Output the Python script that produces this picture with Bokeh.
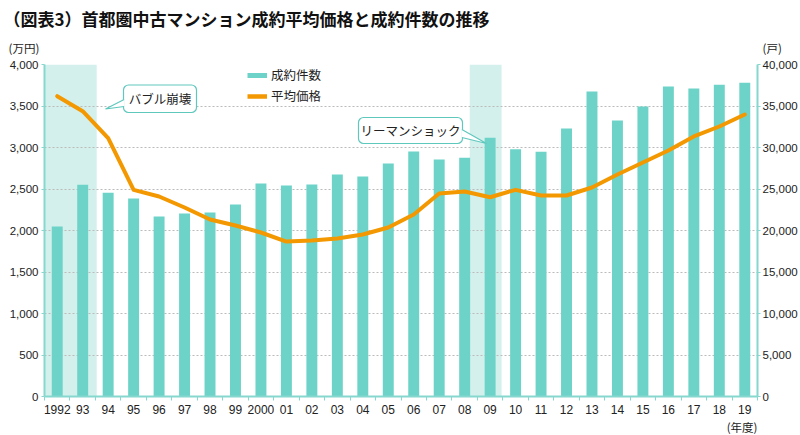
from bokeh.plotting import figure
from bokeh.layouts import column
from bokeh.models import (Range1d, LinearAxis, FixedTicker, NumeralTickFormatter,
                          BoxAnnotation, Label, Legend, LegendItem, Title)
from bokeh.embed import file_html
from bokeh.resources import INLINE

# ---- data ----
years = ["1992", "93", "94", "95", "96", "97", "98", "99", "2000", "01", "02", "03", "04",
         "05", "06", "07", "08", "09", "10", "11", "12", "13", "14", "15", "16", "17", "18", "19"]
counts = [20480, 25510, 24540, 23860, 21690, 22050, 22170, 23130, 25660, 25420, 25540, 26750,
          26510, 28070, 29520, 28550, 28760, 31170, 29800, 29480, 32290, 36750, 33250, 34940,
          37350, 37110, 37550, 37800]
prices = [3618, 3437, 3112, 2490, 2410, 2277, 2133, 2060, 1976, 1867, 1880, 1904, 1952, 2036,
          2193, 2446, 2470, 2401, 2490, 2422, 2422, 2518, 2675, 2819, 2964, 3133, 3253, 3398]
price_ticks = [0, 500, 1000, 1500, 2000, 2500, 3000, 3500, 4000]
count_ticks = [0, 5000, 10000, 15000, 20000, 25000, 30000, 35000, 40000]

TEAL = "#6dd3c8"
BAND = "#d3f0ec"
AXIS = "#86d8cf"
ORANGE = "#f39800"
JP = "Noto Sans CJK JP"
NUM = "Liberation Sans"

xs = list(range(len(years)))

# ---------- header strip (title + units) ----------
HEAD_H = 56
head = figure(width=800, height=HEAD_H, output_backend="svg", toolbar_location=None,
              x_range=Range1d(0, 800), y_range=Range1d(HEAD_H, 0),
              x_axis_type=None, y_axis_type=None, min_border=0,
              outline_line_color=None, background_fill_color="white",
              border_fill_color="white")
head.frame_align = False
head.grid.visible = False
head.add_layout(Label(x=3, y=18, text="（図表3）首都圏中古マンション成約平均価格と成約件数の推移",
                      text_align="left", text_baseline="middle", text_font=JP,
                      text_font_size="17px", text_font_style="bold", text_color="#111111"))
head.add_layout(Label(x=8, y=47, text="(万円)", text_align="left", text_baseline="middle",
                      text_font=JP, text_font_size="11.5px", text_color="#222222"))
head.add_layout(Label(x=762, y=47, text="(戸)", text_align="left", text_baseline="middle",
                      text_font=JP, text_font_size="11.5px", text_color="#222222"))

# ---------- main chart ----------
MAIN_H = 435 - HEAD_H
FL, FR = 44, 757
FT, FB = 64 - HEAD_H, 396 - HEAD_H     # frame top/bottom inside main figure
YPX = (FB - FT) / 4000.0
def px2x(px):
    return (px - FL) / ((FR - FL) / len(years)) - 0.5
def py2y(py):               # py in full-page pixels
    return (396 - py) / YPX

p = figure(width=800, height=MAIN_H, output_backend="svg", toolbar_location=None,
           x_range=Range1d(-0.5, len(years) - 0.5), y_range=Range1d(0, 4000),
           min_border_left=FL, min_border_right=800 - FR, min_border_top=FT,
           min_border_bottom=MAIN_H - FB, outline_line_color=None,
           background_fill_color="white", border_fill_color="white")
p.frame_align = False
p.extra_y_ranges = {"cnt": Range1d(0, 40000)}

# shaded periods
p.add_layout(BoxAnnotation(left=-0.5, right=1.55, fill_color=BAND, fill_alpha=1,
                           line_color=None, level="image"))
p.add_layout(BoxAnnotation(left=16.2, right=17.45, fill_color=BAND, fill_alpha=1,
                           line_color=None, level="image"))

# bars and line
p.vbar(x=xs, top=counts, width=0.43, y_range_name="cnt", fill_color=TEAL, line_color=None)
p.line(xs, prices, line_color=ORANGE, line_width=4, line_join="round", line_cap="round")

# axes
p.xgrid.visible = False
p.ygrid.ticker = FixedTicker(ticks=price_ticks)
p.ygrid.grid_line_color = "#bbbbbb"
p.ygrid.grid_line_dash = "2 2"
p.ygrid.grid_line_width = 1

xa = p.xaxis[0]
xa.ticker = FixedTicker(ticks=xs, minor_ticks=[i - 0.5 for i in range(len(years) + 1)])
xa.major_label_overrides = {i: years[i] for i in xs}
xa.major_tick_line_color = None
xa.minor_tick_line_color = AXIS
xa.minor_tick_in = 0
xa.minor_tick_out = 4
xa.axis_line_color = AXIS
xa.axis_line_width = 2
xa.major_label_text_font = NUM
xa.major_label_text_font_size = "12px"
xa.major_label_text_color = "#222222"
xa.major_label_standoff = 2

ya = p.yaxis[0]
ya.ticker = FixedTicker(ticks=price_ticks)
ya.formatter = NumeralTickFormatter(format="0,0")
ya.axis_line_color = AXIS
ya.axis_line_width = 2
ya.major_tick_line_color = AXIS
ya.major_tick_in = 0
ya.major_tick_out = 3
ya.minor_tick_line_color = None
ya.major_label_text_font = NUM
ya.major_label_text_font_size = "11.5px"
ya.major_label_text_color = "#222222"
ya.major_label_standoff = 3

ra = LinearAxis(y_range_name="cnt", ticker=FixedTicker(ticks=count_ticks),
                formatter=NumeralTickFormatter(format="0,0"))
ra.axis_line_color = AXIS
ra.axis_line_width = 2
ra.major_tick_line_color = AXIS
ra.major_tick_in = 0
ra.major_tick_out = 3
ra.minor_tick_line_color = None
ra.major_label_text_font = NUM
ra.major_label_text_font_size = "11.5px"
ra.major_label_text_color = "#222222"
ra.major_label_standoff = 2
p.add_layout(ra, "right")

# legend (swatches from off-range dummy lines)
d1 = p.line([-10, -9], [-100, -100], line_color=TEAL, line_width=5)
d2 = p.line([-10, -9], [-100, -100], line_color=ORANGE, line_width=4.5)
leg = Legend(items=[LegendItem(label="成約件数", renderers=[d1]),
                    LegendItem(label="平均価格", renderers=[d2])],
             location=(247 - FL, 396 - 105), orientation="vertical",
             background_fill_alpha=0, border_line_color=None, padding=0, margin=0,
             glyph_width=20, glyph_height=16, label_height=16, label_width=70, spacing=2,
             label_standoff=4, label_text_font=JP, label_text_font_size="12.5px",
             label_text_color="#222222")
p.add_layout(leg, "center")

# callouts
def callout(left, right, top, bottom, base1, base2, tip, text):
    p.quad(left=[px2x(left)], right=[px2x(right)], top=[py2y(top)], bottom=[py2y(bottom)],
           fill_color="white", line_color="#5fc8bd", line_width=1.2, border_radius=5)
    p.patch([px2x(base1[0]), px2x(tip[0]), px2x(base2[0])],
            [py2y(base1[1]), py2y(tip[1]), py2y(base2[1])],
            fill_color="white", line_color=None)
    p.line([px2x(base1[0]), px2x(tip[0]), px2x(base2[0])],
           [py2y(base1[1]), py2y(tip[1]), py2y(base2[1])],
           line_color="#5fc8bd", line_width=1.2)
    p.add_layout(Label(x=px2x((left + right) / 2), y=py2y((top + bottom) / 2), text=text,
                       text_align="center", text_baseline="middle", text_font=JP,
                       text_font_size="12.5px", text_color="#222222"))

callout(123, 196, 84.5, 112, (123.6, 99), (123.6, 106), (105, 108.5), "バブル崩壊")
callout(358, 462, 117, 143, (461.4, 129), (461.4, 137), (486, 143), "リーマンショック")

p.add_layout(Title(text="(年度)", align="right", text_font=JP, text_font_size="11.5px",
                   text_font_style="normal", text_color="#222222", standoff=0,
                   offset=0), "below")

layout = column(head, p, spacing=0)
open("out.html", "w").write(file_html(layout, INLINE))
